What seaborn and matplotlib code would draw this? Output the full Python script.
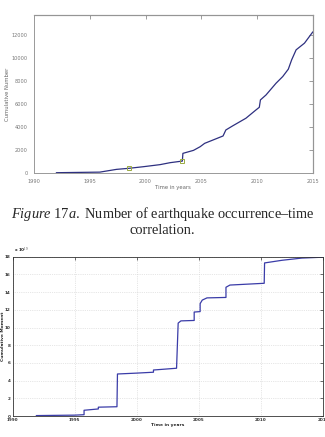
import numpy as np
import pandas as pd
import matplotlib
matplotlib.use('Agg')
import matplotlib.pyplot as plt
import seaborn as sns

# Figure 17a: cumulative number of earthquakes
years_count = [1992.0, 1995.9, 1997.4, 1998.5, 1999.8, 2001.3, 2002.2, 2003.3, 2003.35,
               2004.3, 2004.9, 2005.3, 2006.05, 2006.95, 2007.2, 2007.8, 2009.0, 2009.9,
               2010.2, 2010.3, 2010.8, 2011.7, 2012.3, 2012.8, 2013.1, 2013.5, 2014.25, 2015.0]
cum_count = [0, 50, 290, 380, 520, 700, 870, 1010, 1680,
             1940, 2260, 2550, 2840, 3190, 3710, 4060, 4730, 5450,
             5680, 6320, 6750, 7770, 8350, 8990, 9800, 10670, 11250, 12230]
marker_years = [1998.5, 2003.3]
marker_count = [380, 1010]

# cumulative seismic moment (x 10^19)
years_moment = [1991.9, 1995.0, 1995.75, 1995.75, 1996.9, 1996.9, 1998.4, 1998.44,
                2000.0, 2001.34, 2001.34, 2003.2, 2003.33, 2003.55, 2004.62, 2004.62,
                2005.1, 2005.1, 2005.27, 2005.65, 2007.18, 2007.18, 2007.5, 2010.26,
                2010.29, 2011.7, 2013.3, 2015.0]
cum_moment = [0.05, 0.1, 0.15, 0.65, 0.8, 1.0, 1.05, 4.75,
              4.85, 4.95, 5.2, 5.4, 10.5, 10.75, 10.8, 11.75,
              11.8, 12.7, 13.1, 13.35, 13.4, 14.55, 14.8, 15.0,
              17.3, 17.6, 17.85, 17.95]

year_ticks = [1990, 1995, 2000, 2005, 2010, 2015]

sns.set_style('white')
plt.rcParams['font.family'] = ['DejaVu Sans']
plt.rcParams['mathtext.fontset'] = 'custom'
plt.rcParams['mathtext.it'] = 'Liberation Serif:italic'
plt.rcParams['mathtext.rm'] = 'Liberation Serif'

fig = plt.figure(figsize=(3.25, 4.37), dpi=100)

# ---------- top chart ----------
ax1 = fig.add_axes([0.1046, 0.6048, 0.858, 0.361])
df1 = pd.DataFrame({'year': years_count, 'count': cum_count})
sns.lineplot(data=df1, x='year', y='count', ax=ax1, color='#2e3080', lw=0.9,
             sort=False, estimator=None)
ax1.plot(marker_years, marker_count, 's', ms=2.5, mfc='none', mec='#9aaa40', mew=0.7)
ax1.set_xlim(1990, 2015)
ax1.set_ylim(0, 13700)
ax1.set_xticks(year_ticks)
ax1.set_yticks(range(0, 12001, 2000))
ax1.tick_params(axis='both', direction='out', length=2.5, width=0.5, colors='#777777',
                labelsize=3.6, pad=2)
for s in ax1.spines.values():
    s.set_color('#999999')
    s.set_linewidth(0.7)
top1 = ax1.secondary_xaxis('top')
top1.set_xticks(year_ticks)
top1.tick_params(direction='in', length=3, width=0.5, colors='#777777', labeltop=False)
right1 = ax1.secondary_yaxis('right')
right1.set_yticks(range(0, 12001, 2000))
right1.tick_params(direction='in', length=3, width=0.5, colors='#777777', labelright=False)
ax1.set_xlabel('Time in years', fontsize=3.8, color='#666666', labelpad=1)
ax1.set_ylabel('Cumulative Number', fontsize=3.8, color='#666666')
ax1.yaxis.set_label_coords(-0.086, 0.5)

fig.text(0.5, 1 - 214 / 437, r'$\mathit{Figure\ 17a.}$ Number of earthquake occurrence–time',
         ha='center', va='center', fontsize=10.4, family='Liberation Serif')
fig.text(0.5, 1 - 231 / 437, 'correlation.', ha='center', va='center', fontsize=10.4,
         family='Liberation Serif')

# ---------- bottom chart ----------
ax2 = fig.add_axes([0.039, 0.048, 0.955, 0.3645])
df2 = pd.DataFrame({'year': years_moment, 'moment': cum_moment})
sns.lineplot(data=df2, x='year', y='moment', ax=ax2, color='#3a3ca8', lw=0.9,
             sort=False, estimator=None)
ax2.set_xlim(1990, 2015)
ax2.set_ylim(0, 18)
ax2.set_xticks(year_ticks)
ax2.set_yticks(range(0, 19, 2))
ax2.grid(True, color='#cfcfcf', lw=0.5, ls=':')
ax2.tick_params(axis='both', direction='in', length=2, width=0.5, colors='#333333',
                labelsize=3, pad=1.5, top=True, right=True)
for lab in ax2.get_xticklabels() + ax2.get_yticklabels():
    lab.set_fontweight('bold')
for s in ax2.spines.values():
    s.set_color('#333333')
    s.set_linewidth(0.6)
ax2.set_xlabel('Time in years', fontsize=3.2, fontweight='bold', labelpad=1)
ax2.set_ylabel('Cumulative Moment', fontsize=3.2, fontweight='bold')
ax2.yaxis.set_label_coords(-0.025, 0.5)
ax2.text(0.004, 1.01, r'x 10$^{19}$', transform=ax2.transAxes, fontsize=3,
         fontweight='bold', va='bottom')

fig.savefig('out.png', dpi=100)
